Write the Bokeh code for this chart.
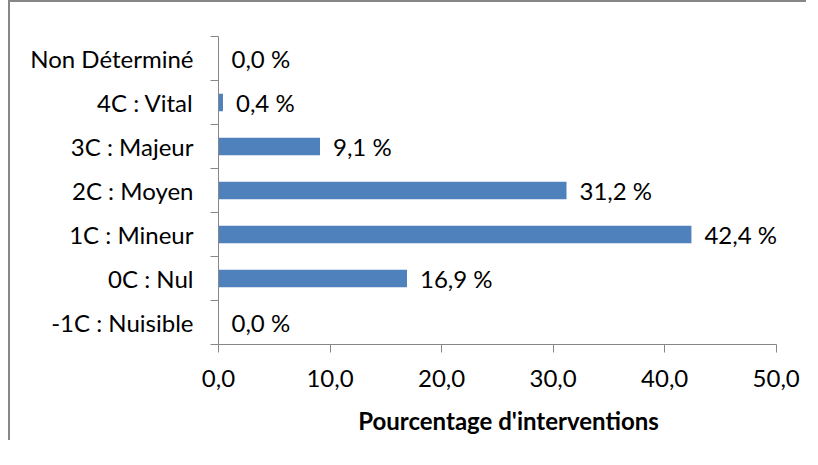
from bokeh.plotting import figure
from bokeh.models import Range1d, LinearAxis, FixedTicker, ColumnDataSource
from bokeh.core.properties import value
from bokeh.embed import file_html
from bokeh.resources import INLINE

categories = ["-1C : Nuisible", "0C : Nul", "1C : Mineur", "2C : Moyen",
              "3C : Majeur", "4C : Vital", "Non Déterminé"]
values = [0.0, 16.9, 42.4, 31.2, 9.1, 0.4, 0.0]
x_ticks = [0, 10, 20, 30, 40, 50]
x_tick_labels = ["0,0", "10,0", "20,0", "30,0", "40,0", "50,0"]
x_title = "Pourcentage d'interventions"

bar_labels = [f"{v:.1f} %".replace(".", ",") for v in values]
n = len(categories)
ypos = [i + 0.5 for i in range(n)]

FONT = "Lato"
FS = "24px"
GRAY = "#878787"
BLUE = "#4F81BD"

src = ColumnDataSource(dict(y=ypos, val=values, lab=bar_labels))

p = figure(width=798, height=440,
           y_range=Range1d(0, n), x_range=Range1d(0, 52),
           output_backend="svg", toolbar_location=None,
           y_axis_location=None, x_axis_location="below",
           min_border_left=208, min_border_top=34, min_border_right=10,
           min_border_bottom=98)
p.styles = {"border-left": f"2px solid {GRAY}", "border-top": f"2px solid {GRAY}",
            "position": "relative", "left": "8px"}
p.outline_line_color = None
p.grid.visible = False
p.background_fill_color = "white"
p.border_fill_color = "white"

# bars
p.hbar(y="y", right="val", left=0, height=0.4, source=src,
       fill_color=BLUE, line_color=None)
p.text(x="val", y="y", text="lab", source=src, x_offset=13,
       text_align="left", text_baseline="middle",
       text_font=value(FONT), text_font_size=FS, text_color="#000000")

# x axis
xa = p.xaxis[0]
xa.bounds = (x_ticks[0], x_ticks[-1])
xa.ticker = FixedTicker(ticks=x_ticks)
xa.major_label_overrides = {t: l for t, l in zip(x_ticks, x_tick_labels)}
xa.axis_line_color = GRAY
xa.major_tick_line_color = GRAY
xa.major_tick_out = 8
xa.major_tick_in = 0
xa.minor_tick_line_color = None
xa.major_label_text_font = FONT
xa.major_label_text_font_size = FS
xa.major_label_text_color = "#000000"
xa.major_label_standoff = 17
xa.axis_label = x_title
xa.axis_label_text_font = FONT
xa.axis_label_text_font_style = "bold"
xa.axis_label_text_font_size = FS
xa.axis_label_text_color = "#000000"
xa.axis_label_standoff = 16

# y tick axis at category boundaries
ta = LinearAxis(ticker=FixedTicker(ticks=list(range(n + 1))),
                major_label_overrides={i: "" for i in range(n + 1)},
                axis_line_color=GRAY, major_tick_line_color=GRAY,
                major_tick_out=8, major_tick_in=0, minor_tick_line_color=None,
                major_label_standoff=0)
p.add_layout(ta, "left")

# y label axis
la = LinearAxis(ticker=FixedTicker(ticks=ypos),
                major_label_overrides={y: c for y, c in zip(ypos, categories)},
                axis_line_color=None, major_tick_line_color=None,
                major_tick_out=0, major_tick_in=0, minor_tick_line_color=None,
                major_label_standoff=17,
                major_label_text_font=FONT, major_label_text_font_size=FS,
                major_label_text_color="#000000")
p.add_layout(la, "left")

open("out.html", "w").write(file_html(p, INLINE))
